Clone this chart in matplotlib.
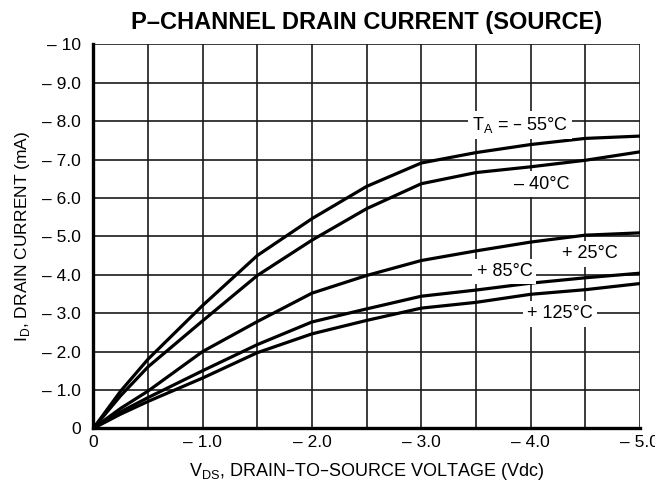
import numpy as np
import matplotlib.pyplot as plt

plt.rcParams['font.family'] = ['Liberation Sans', 'DejaVu Sans']

# V_DS (Vdc) and I_D (mA)
vds = [0, -0.25, -0.5, -1.0, -1.5, -2.0, -2.5, -3.0, -3.5, -4.0, -4.5, -5.0]
id_m55 = [0, -0.97, -1.8, -3.2, -4.5, -5.46, -6.3, -6.91, -7.18, -7.39, -7.55, -7.61]
id_m40 = [0, -0.85, -1.6, -2.8, -3.98, -4.9, -5.72, -6.37, -6.66, -6.81, -6.98, -7.2]
id_p25 = [0, -0.52, -0.97, -2.0, -2.78, -3.52, -3.98, -4.37, -4.62, -4.85, -5.03, -5.09]
id_p85 = [0, -0.43, -0.8, -1.5, -2.18, -2.77, -3.11, -3.44, -3.6, -3.78, -3.92, -4.04]
id_p125 = [0, -0.37, -0.7, -1.31, -1.97, -2.46, -2.81, -3.13, -3.28, -3.49, -3.61, -3.77]

x_ticks = [0, -1.0, -2.0, -3.0, -4.0, -5.0]
x_labels = ['0', '\u2013 1.0', '\u2013 2.0', '\u2013 3.0', '\u2013 4.0', '\u2013 5.0']
y_ticks = [0, -1, -2, -3, -4, -5, -6, -7, -8, -9, -10]
y_labels = ['0', '\u2013 1.0', '\u2013 2.0', '\u2013 3.0', '\u2013 4.0', '\u2013 5.0',
            '\u2013 6.0', '\u2013 7.0', '\u2013 8.0', '\u2013 9.0', '\u2013 10']

fig = plt.figure(figsize=(6.55, 4.93), dpi=100)
ax = fig.add_axes([0.1425, 0.1312, 0.8345, 0.7789])

for curve in [id_m55, id_m40, id_p25, id_p85, id_p125]:
    ax.plot(vds, curve, color='black', lw=2.3, solid_capstyle='round',
            solid_joinstyle='round', zorder=3)

ax.set_xlim(0, -5.0)
ax.set_ylim(0, -10)
ax.set_xticks(x_ticks)
ax.set_xticklabels(x_labels)
ax.set_xticks(np.arange(-0.5, -5.0, -0.5), minor=True)
ax.set_yticks(y_ticks)
ax.set_yticklabels(y_labels)
ax.tick_params(which='both', length=0, labelsize=12.5)
ax.tick_params(axis='y', pad=9)
ax.tick_params(axis='x', pad=5)
ax.grid(True, which='both', color='#1a1a1a', lw=1.2)
ax.set_axisbelow(True)

for s in ['top', 'right']:
    ax.spines[s].set_visible(False)
for s in ['left', 'bottom']:
    ax.spines[s].set_linewidth(2.4)
    ax.spines[s].set_zorder(4)

box = dict(facecolor='white', edgecolor='none', pad=3)
ax.text(-3.9, -7.9, 'T$_\\mathregular{A}$ = \u2013 55\u00b0C', fontsize=13, ha='center', va='center', bbox=box, zorder=5)
ax.text(-4.1, -6.36, '\u2013 40\u00b0C', fontsize=13, ha='center', va='center', bbox=box, zorder=5)
ax.text(-4.54, -4.54, '+ 25\u00b0C', fontsize=13, ha='center', va='center', bbox=box, zorder=5)
ax.text(-3.76, -4.08, '+ 85\u00b0C', fontsize=13, ha='center', va='center', bbox=box, zorder=5)
ax.text(-4.27, -2.98, '+ 125\u00b0C', fontsize=13, ha='center', va='center', bbox=box, zorder=5)

ax.set_title('P\u2013CHANNEL DRAIN CURRENT (SOURCE)', fontsize=17, fontweight='bold', pad=11)
ax.set_xlabel('V$_\\mathregular{DS}$, DRAIN\u2013TO\u2013SOURCE VOLTAGE (Vdc)', fontsize=13, labelpad=8)
ax.set_ylabel('I$_\\mathregular{D}$, DRAIN CURRENT (mA)', fontsize=12.5, labelpad=7)

fig.savefig('out.png', dpi=100)
